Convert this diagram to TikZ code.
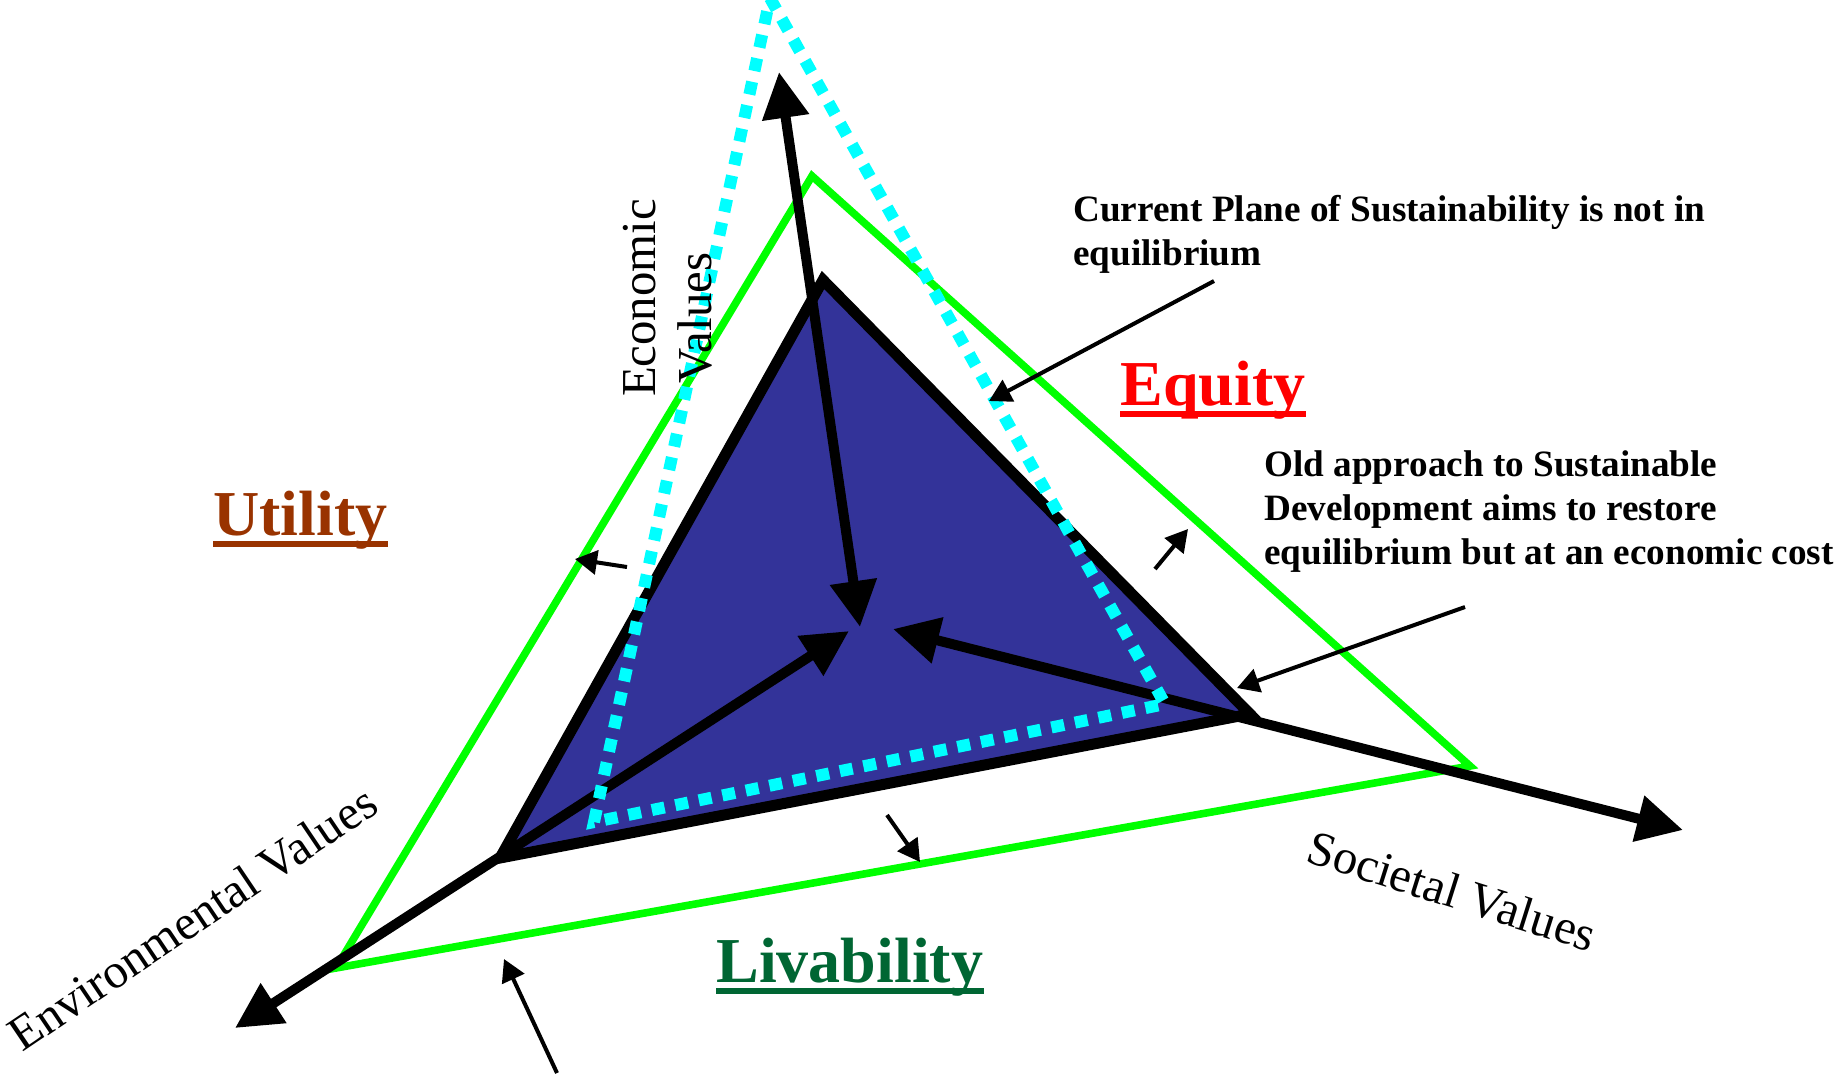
\documentclass[tikz,border=0pt]{standalone}
\usepackage{fontspec}
\setmainfont{Liberation Serif}
\usetikzlibrary{arrows.meta}
\definecolor{triblue}{HTML}{333399}
\definecolor{lgreen}{HTML}{00FF00}
\definecolor{lcyan}{HTML}{00FFFF}
\definecolor{eqred}{HTML}{FF0000}
\definecolor{utbrown}{HTML}{993300}
\definecolor{lvgreen}{HTML}{006633}
\begin{document}
\begin{tikzpicture}[x=0.5pt,y=-0.5pt,
  greentri/.style={draw=lgreen, line width=3.8pt, line join=miter},
  bluetri/.style={draw=black, fill=triblue, line width=5.5pt, line join=miter},
  axisline/.style={line width=5pt, {Triangle[length=23pt,width=22.5pt]}-{Triangle[length=23pt,width=22.5pt]}},
  cyandot/.style={draw=lcyan, line width=6pt, dash pattern=on 6.5pt off 5.5pt, line join=miter},
  pointer/.style={line width=2pt, -{Triangle[length=11pt,width=12pt]}},
  axislabel/.style={font=\fontsize{24.4}{28}\selectfont, inner sep=0pt},
  note/.style={font=\bfseries\fontsize{18.6}{22}\selectfont, inner sep=0pt, align=left},
  heading/.style={font=\bfseries\fontsize{32}{36}\selectfont, inner sep=0pt},
  uline/.style={line width=3pt}
]
\useasboundingbox (0,0) rectangle (1839,1073);

% coordinates
\coordinate (gT) at (812,176);
\coordinate (gL) at (336,968);
\coordinate (gR) at (1470,766);
\coordinate (bT) at (823,280);
\coordinate (bL) at (500,858);
\coordinate (bR) at (1250,714);
\coordinate (cT) at (770,-2);
\coordinate (cR) at (1165,704);
\coordinate (cL) at (594,822);
\coordinate (ecoIn) at (860,627);
\coordinate (ecoOut) at (779,72);
\coordinate (envIn) at (849,631);
\coordinate (envOut) at (235,1028);
\coordinate (socIn) at (893,629);
\coordinate (socOut) at (1683,830);

% green triangle
\draw[greentri] (gT) -- (gR) -- (gL) -- cycle;
% blue triangle
\draw[bluetri] (bT) -- (bR) -- (bL) -- cycle;
% axes
\draw[axisline] (ecoIn) -- (ecoOut);
\draw[axisline] (envIn) -- (envOut);
\draw[axisline] (socIn) -- (socOut);
% cyan dotted plane
\draw[cyandot] (cT) -- (cR) -- (cL) -- cycle;

% texts (base anchor = baseline of the last line)
\node[note, anchor=base west] (current) at (1073,265) {Current Plane of Sustainability is not in\\equilibrium};
\node[note, anchor=base west] (old) at (1264,564) {Old approach to Sustainable\\Development aims to restore\\equilibrium but at an economic cost};

\node[heading, text=eqred, anchor=base west] (equity) at (1120,405) {Equity};
\draw[uline, eqred] ([yshift=-4.7pt]equity.base west) -- ([yshift=-4.7pt]equity.base east);
\node[heading, text=utbrown, anchor=base west] (utility) at (213,535) {Utility};
\draw[uline, utbrown] ([yshift=-4.7pt]utility.base west) -- ([yshift=-4.7pt]utility.base east);
\node[heading, text=lvgreen, anchor=base west] (livability) at (716,982) {Livability};
\draw[uline, lvgreen] ([yshift=-4.7pt]livability.base west) -- ([yshift=-4.7pt]livability.base east);

\node[axislabel, rotate=90, anchor=base] (econ1) at (655,298) {Economic};
\node[axislabel, rotate=90, anchor=base] (econ2) at (711,318) {Values};
\node[axislabel, rotate=34, anchor=base west] (envlab) at (22,1053) {Environmental Values};
\node[axislabel, rotate=-17.5, anchor=center] (soclab) at (1452,891) {Societal Values};

% pointer arrows
\coordinate (p1s) at (1214,281); \coordinate (p1e) at (989,401);
\coordinate (p2s) at (1465,607); \coordinate (p2e) at (1237,688);
\coordinate (p3s) at (627,567);  \coordinate (p3e) at (575,559);
\coordinate (p4s) at (1155,569); \coordinate (p4e) at (1188,529);
\coordinate (p5s) at (887,815);  \coordinate (p5e) at (920,862);
\coordinate (p6s) at (557,1073); \coordinate (p6e) at (504,959);
\draw[pointer] (p1s) -- (p1e);
\draw[pointer] (p2s) -- (p2e);
\draw[pointer] (p3s) -- (p3e);
\draw[pointer] (p4s) -- (p4e);
\draw[pointer] (p5s) -- (p5e);
\draw[pointer] (p6s) -- (p6e);
\end{tikzpicture}
\end{document}
